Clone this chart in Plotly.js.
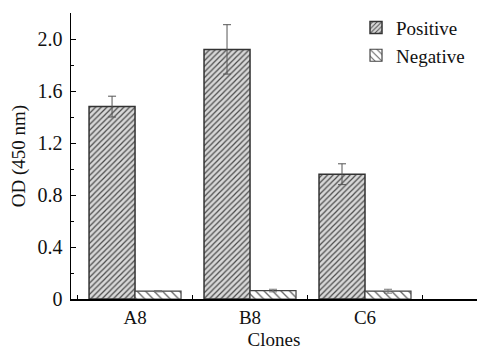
<!DOCTYPE html>
<html>
<head>
<meta charset="utf-8">
<script src="https://cdn.plot.ly/plotly-3.0.1.min.js"></script>
<style>html,body{margin:0;padding:0;background:#fff;}#chart{width:477px;height:352px;}</style>
</head>
<body>
<div id="chart"></div>
<script>
const clones = ["A8", "B8", "C6"];
const positive = [1.48, 1.92, 0.96];
const positiveErr = [0.08, 0.19, 0.08];
const negative = [0.06, 0.065, 0.06];
const negativeErr = [0.005, 0.01, 0.015];
const yTickVals = [0, 0.4, 0.8, 1.2, 1.6, 2.0];
const yTickText = ["0", "0.4", "0.8", "1.2", "1.6", "2.0"];

const serif = '"Liberation Serif", "DejaVu Serif", serif';

const traces = [
  {
    type: "bar", name: "Positive", x: clones, y: positive,
    error_y: {type: "data", array: positiveErr, visible: true, color: "#555", thickness: 1, width: 4},
    marker: {color: "#d4d4d4", line: {color: "#333", width: 1.5},
      pattern: {shape: "/", fgcolor: "#4a4a4a", bgcolor: "#d8d8d8", size: 4, solidity: 0.3, fillmode: "replace"}}
  },
  {
    type: "bar", name: "Negative", x: clones, y: negative,
    error_y: {type: "data", array: negativeErr, visible: true, color: "#777", thickness: 1, width: 4},
    marker: {color: "#ffffff", line: {color: "#444", width: 1.2},
      pattern: {shape: "\\", fgcolor: "#666", bgcolor: "#ffffff", size: 6, solidity: 0.22, fillmode: "replace"}}
  }
];

const layout = {
  width: 477, height: 352,
  margin: {l: 71, r: 0, t: 13, b: 53},
  paper_bgcolor: "#fff", plot_bgcolor: "#fff",
  barmode: "group", bargap: 0.2, bargroupgap: 0,
  font: {family: serif, size: 19, color: "#111"},
  showlegend: true,
  legend: {x: 0.702, y: 1.015, xanchor: "left", yanchor: "top", bgcolor: "rgba(0,0,0,0)",
    font: {family: serif, size: 19, color: "#111"}, tracegroupgap: 0, itemwidth: 30},
  xaxis: {
    type: "category", range: [-0.557, 2.974],
    showline: true, linecolor: "#000", linewidth: 2,
    ticks: "inside", tickson: "boundaries", ticklen: 4, tickcolor: "#000", tickwidth: 1,
    showgrid: false, zeroline: false,
    tickfont: {family: serif, size: 19, color: "#111"},
    title: {text: "Clones", font: {family: serif, size: 19, color: "#111"}, standoff: 6}
  },
  yaxis: {
    range: [0, 2.2],
    showline: true, linecolor: "#000", linewidth: 1.5,
    tickvals: yTickVals, ticktext: yTickText,
    ticks: "inside", ticklen: 5, tickcolor: "#000", tickwidth: 1,
    ticklabelstandoff: 3,
    minor: {dtick: 0.2, tick0: 0, ticks: "inside", ticklen: 3, tickcolor: "#000", tickwidth: 1},
    showgrid: false, zeroline: false,
    tickfont: {family: serif, size: 20, color: "#111"},
    title: {text: "OD (450 nm)", font: {family: serif, size: 19, color: "#111"}, standoff: 7}
  }
};

Plotly.newPlot("chart", traces, layout, {displayModeBar: false, staticPlot: true});
</script>
</body>
</html>
